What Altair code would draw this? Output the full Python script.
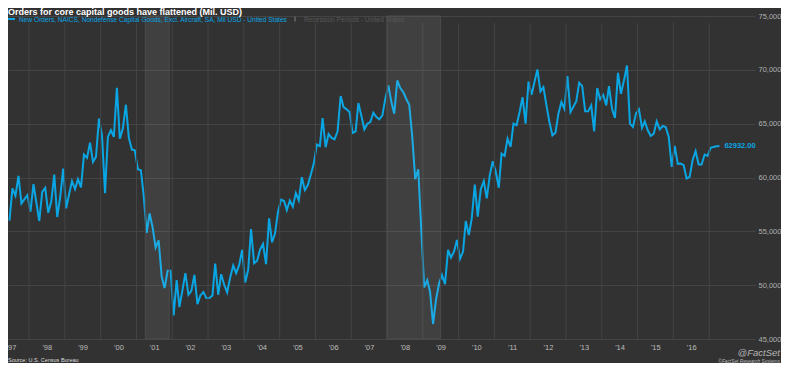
import altair as alt
import pandas as pd

# ---------------- data ----------------
title_text = "Orders for core capital goods have flattened (Mil. USD)"
series_name = "New Orders, NAICS, Nondefense Capital Goods, Excl. Aircraft, SA, Mil USD - United States"
recession_name = "Recession Periods - United States"
source_text = "Source: U.S. Census Bureau"
brand_text = "@FactSet"
copyright_text = "\u00a9FactSet Research Systems"

first_month = "1997-06-01"
orders = [
    55990, 58983, 58304, 60156, 57594, 57995, 58366,
    56823, 59384, 57749, 55959, 58674, 59045, 56730, 57749, 60279, 56329, 58211, 60835,
    57131, 58520, 59662, 58921, 59847, 59076, 62131, 61822, 63242, 61452, 61915, 65464,
    63921, 58551, 63766, 64383, 63766, 68334, 63612, 64538, 66760, 63674, 62594, 62530,
    60773, 60680, 58366, 54848, 56668, 55341, 53490, 54169, 50805, 49725, 51330, 51330,
    47194, 50466, 47966, 49540, 51114, 49108, 49478, 50959, 48244, 49046, 49355, 48799,
    48799, 49046, 52009, 49108, 51021, 50034, 49324, 50712, 51823, 51114, 51885, 53274,
    50250, 51422, 55218, 52039, 52255, 53305, 53829, 51947, 56206, 53984, 54817, 56823,
    57934, 57810, 56977, 57872, 57286, 58551, 57872, 60032, 58829, 59292, 60279, 61297,
    63056, 62902, 65525, 62810, 64044, 63674, 63550, 64291, 67562, 66544, 66328, 66081,
    64137, 64291, 66914, 65710, 64476, 65001, 65155, 66019, 65618, 65402, 65772, 67315,
    68550, 67007, 65926, 69012, 68303, 67932, 67315, 66760, 63766, 59847, 60773, 55280,
    49787, 50466, 49416, 46392, 48645, 50157, 50959, 50095, 53274, 52564, 53120, 54200,
    52441, 53120, 55959, 54663, 56206, 59353, 56360, 58921, 59662, 58057, 60217, 61513,
    60526, 59045, 62223, 62007, 63612, 62840, 65001, 64846, 66081, 67469, 65001, 68920,
    67685, 68920, 70031, 67994, 68395, 66698, 65155, 63921, 64167, 65926, 67007, 66389,
    69414, 66081, 66544, 67068, 68796, 68488, 66142, 66142, 66698, 64291, 68303, 67253,
    67685, 66698, 68488, 66389, 65525, 69722, 67778, 69012, 70401, 65001, 64692, 65926,
    66328, 64599, 65217, 64383, 63859, 64075, 65217, 64476, 64785, 64692, 63766, 60989,
    62933, 61267, 61297, 61143, 59909, 60063, 61606, 62439, 61205, 61205, 62131, 62007,
    62748, 62840, 62902, 62932,
]

recession_start = ["2001-04-01", "2008-01-01"]
recession_end = ["2001-12-01", "2009-07-01"]

label_years = list(range(1997, 2017))
grid_years = list(range(1998, 2018))
y_ticks = [45000, 50000, 55000, 60000, 65000, 70000, 75000]

# ---------------- style ----------------
BG = "#323232"
CYAN = "#0aa6e4"
GRID = "#444444"
FONT = "Liberation Sans"
W, H = 747, 323

months = pd.date_range(first_month, periods=len(orders), freq="MS") + pd.Timedelta(days=14)
df = pd.DataFrame({"date": months.strftime("%Y-%m-%d"), "orders": orders})
df_last = df.tail(1)
df_rec = pd.DataFrame({"date": recession_start, "date_end": recession_end})
df_grid = pd.DataFrame({"date": [f"{y}-01-01" for y in grid_years]})

xscale = alt.Scale(
    type="utc",
    domain=[alt.DateTime(year=1997, month=5, date=31, utc=True),
            alt.DateTime(year=2018, month=4, date=13, utc=True)],
)
yscale = alt.Scale(domain=[45000, 75000], nice=False, zero=False)

x_axis = alt.Axis(
    values=[alt.DateTime(year=y, month=7, date=1, utc=True) for y in label_years],
    labelExpr="\"'\" + utcFormat(datum.value, '%y')",
    grid=False, ticks=False, domain=False, title=None,
    labelAlign="center", labelBaseline="top", labelPadding=4,
    labelColor="#bdbdbd", labelFont=FONT, labelFontSize=7.5, labelOverlap=False,
)
y_axis = alt.Axis(
    orient="right", values=y_ticks, format=",d", formatType="number", title=None,
    grid=True, gridColor=GRID, gridWidth=1, ticks=False, domain=False,
    labelAlign="left", labelBaseline="middle", labelPadding=3,
    labelColor="#b0b0b0", labelFont=FONT, labelFontSize=7.5, labelOverlap=False,
)

def X(field):
    return alt.X(field, type="temporal", scale=xscale, axis=x_axis)

def Y(field):
    return alt.Y(field, type="quantitative", scale=yscale, axis=y_axis)

line = alt.Chart(df).mark_line(color=CYAN, strokeWidth=2, clip=True).encode(
    x=X("date"), y=Y("orders"),
)

grid_rules = alt.Chart(df_grid).mark_rule(color=GRID, strokeWidth=1).encode(
    x=X("date"), y=alt.value(7), y2=alt.value(H),
)

rec = alt.Chart(df_rec).mark_rect(
    fill="white", fillOpacity=0.07, stroke="#4c4c4c", strokeWidth=1
).encode(
    x=X("date"),
    x2="date_end:T",
)

end_label = alt.Chart(df_last).mark_text(
    align="left", baseline="middle", dx=5, color=CYAN,
    font=FONT, fontSize=7.5, fontWeight="bold",
).encode(
    x=X("date"), y=Y("orders"),
    text=alt.Text("orders:Q", format=".2f"),
)

def label(text, x, y, size, color, weight="normal", style="normal", align="left"):
    return alt.Chart(pd.DataFrame({"t": [text]})).mark_text(
        align=align, baseline="alphabetic", font=FONT, fontSize=size,
        fontWeight=weight, fontStyle=style, color=color,
    ).encode(text="t:N", x=alt.value(x), y=alt.value(y))

title = label(title_text, 0, -1.5, 9, "#ffffff", weight="bold")
legend_line = alt.Chart(pd.DataFrame({"t": [series_name]})).mark_rule(
    color=CYAN, strokeWidth=2
).encode(x=alt.value(0), x2=alt.value(7), y=alt.value(3))
legend_text = label(series_name, 11, 5.5, 6.6, CYAN)
rec_swatch = alt.Chart(pd.DataFrame({"t": [recession_name]})).mark_rule(
    color="#595959", strokeWidth=2
).encode(x=alt.value(287), y=alt.value(0.5), y2=alt.value(5.5))
rec_text = label(recession_name, 296, 5.5, 6.6, "#575757")

source = label(source_text, 0, 346, 5.5, "#dddddd")
brand = label(brand_text, 772, 340, 9.5, "#b5b5b5", style="italic", align="right")
copyright_ = label(copyright_text, 772, 346.5, 4.8, "#bbbbbb", style="italic", align="right")

chart = alt.layer(
    line, grid_rules, rec, end_label,
    title, legend_line, legend_text, rec_swatch, rec_text,
    source, brand, copyright_,
).properties(
    width=W, height=H, background=BG,
    padding={"left": 0, "top": 8, "right": 26, "bottom": 24},
    autosize=alt.AutoSizeParams(type="none"),
).configure_view(stroke=None, fill=BG)

chart.save("out.html", embed_options={"renderer": "svg", "actions": False})
